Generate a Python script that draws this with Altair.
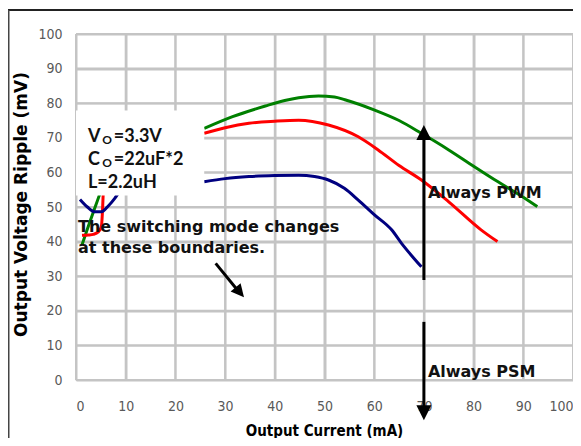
import altair as alt
import pandas as pd

# ---- series (Output Current mA, Ripple mV); each series has two visible pieces ----
green_left_x = [1.2, 2.5, 3.6, 4.6, 5.3]
green_left_y = [39.0, 44.5, 49.0, 53.0, 56.0]
green_x = [25.8, 31.5, 38.1, 42.0, 44.8, 48.8, 52.0, 54.1, 60.1, 65.0, 69.5, 75.0, 80.0, 85.0, 90.0, 92.8]
green_y = [72.7, 76.1, 79.2, 80.8, 81.6, 82.1, 81.8, 81.0, 78.0, 75.0, 71.3, 66.5, 61.8, 57.2, 52.8, 50.1]

red_left_x = [1.2, 2.5, 3.5, 4.5, 5.1, 5.3, 5.5]
red_left_y = [41.8, 41.9, 42.1, 42.8, 44.3, 48.0, 55.0]
red_x = [25.8, 30.0, 34.8, 40.0, 44.8, 50.8, 56.8, 60.8, 65.0, 69.5, 75.0, 81.5, 84.8]
red_y = [71.3, 72.9, 74.2, 74.8, 75.1, 73.7, 70.3, 66.5, 62.0, 57.8, 51.5, 43.4, 40.0]

blue_left_x = [0.8, 2.3, 3.8, 5.1, 6.5, 7.8, 9.0]
blue_left_y = [52.2, 50.0, 48.6, 48.6, 50.3, 52.5, 55.0]
blue_x = [25.8, 30.0, 34.8, 40.0, 44.8, 48.0, 50.8, 54.0, 56.8, 60.0, 63.5, 65.5, 67.5, 69.5]
blue_y = [57.3, 58.2, 58.8, 59.1, 59.2, 58.8, 57.8, 55.4, 52.0, 47.8, 43.4, 39.5, 36.0, 32.7]

series_names = ["green", "red", "blue"]
series_colors = ["#008000", "#ff0000", "#000080"]

x_ticks = [0, 10, 20, 30, 40, 50, 60, 70, 80, 90, 100]
y_ticks = [0, 10, 20, 30, 40, 50, 60, 70, 80, 90, 100]

# ---- annotations (data coordinates) ----
box_x = [0.0]
box_x2 = [25.8]
box_y = [53.3]
box_y2 = [77.9]

main_txt = ["V", "=3.3V", "C", "=22uF*2", "L=2.2uH"]
main_txt_x = [2.4, 7.6, 2.4, 7.6, 2.4]
main_txt_y = [70.3, 70.3, 63.6, 63.6, 57.0]

sub_txt = ["O", "O"]
sub_txt_x = [5.3, 5.3]
sub_txt_y = [69.3, 62.6]

note_txt = ["The switching mode changes", "at these boundaries.", "Always PWM", "Always PSM"]
note_txt_x = [0.4, 0.4, 70.8, 70.8]
note_txt_y = [44.3, 38.1, 54.0, 2.4]

shaft_x = [70.0, 70.0, 28.1]
shaft_y = [28.9, 16.8, 33.7]
shaft_x2 = [70.0, 70.0, 32.6]
shaft_y2 = [71.5, -8.0, 25.8]

head_x = [70.0, 70.0, 33.8]
head_y = [73.7, -11.6, 23.9]
head_shape = ["up", "down", "diag"]
head_angle = [0, 0, 320]

# ---- build tables ----
rows = []
for name, pieces in [
    ("green", [(green_left_x, green_left_y), (green_x, green_y)]),
    ("red", [(red_left_x, red_left_y), (red_x, red_y)]),
    ("blue", [(blue_left_x, blue_left_y), (blue_x, blue_y)]),
]:
    for k, (xs_, ys_) in enumerate(pieces):
        for i, (a, b) in enumerate(zip(xs_, ys_)):
            rows.append({"x": a, "y": b, "series": name, "seg": f"{name}{k}", "o": i})
lines_df = pd.DataFrame(rows)

xs = alt.Scale(domain=[0, 100], nice=False)
ys = alt.Scale(domain=[0, 100], nice=False)

grid_color = "#c4c4c4"
label_font = "DejaVu Sans Condensed, Roboto, Liberation Sans, sans-serif"

x_axis = alt.Axis(
    values=x_ticks, grid=True, gridColor=grid_color, gridWidth=2, gridOpacity=1, domain=False,
    ticks=False, tickSize=0, labelPadding=26, labelBaseline="middle", labelOverlap=False,
    labelFont=label_font, labelFontSize=14, labelColor="#595959",
    title="Output Current (mA)", titleFont=label_font, titleFontSize=15,
    titleFontWeight="bold", titleColor="#000000", titleX=248, titleY=50,
    titleBaseline="middle", titleAlign="center",
)
y_axis = alt.Axis(
    values=y_ticks, grid=True, gridColor=grid_color, gridWidth=2, gridOpacity=1, domain=False,
    ticks=False, tickSize=0, labelPadding=14, labelOverlap=False,
    labelFont=label_font, labelFontSize=14, labelColor="#595959",
    title="Output Voltage Ripple (mV)", titleFont="DejaVu Sans", titleFontSize=17,
    titleFontWeight="bold", titleColor="#000000", titleX=-55, titleY=170,
    titleAngle=270, titleBaseline="middle", titleAlign="center",
)


def X(f="x"):
    return alt.X(f"{f}:Q", scale=xs, axis=x_axis)


def Y(f="y"):
    return alt.Y(f"{f}:Q", scale=ys, axis=y_axis)


# gridlines from tick arrays (drawn as marks as well)
vgrid = alt.Chart(pd.DataFrame({"x": x_ticks})).mark_rule(
    color=grid_color, strokeWidth=2, opacity=1
).encode(x=X(), y=alt.value(0), y2=alt.value(346))
hgrid = alt.Chart(pd.DataFrame({"y": y_ticks})).mark_rule(
    color=grid_color, strokeWidth=2, opacity=1
).encode(y=Y(), x=alt.value(0), x2=alt.value(497))

lines = alt.Chart(lines_df).mark_line(strokeWidth=3, interpolate="monotone", clip=False).encode(
    x=X(), y=Y(),
    color=alt.Color("series:N", scale=alt.Scale(domain=series_names, range=series_colors), legend=None),
    detail="seg:N",
    order="o:Q",
)

box = alt.Chart(pd.DataFrame({"x": box_x, "x2": box_x2, "y": box_y, "y2": box_y2})).mark_rect(
    color="white"
).encode(x=X(), x2="x2:Q", y=Y(), y2="y2:Q")

main_text = alt.Chart(pd.DataFrame({"t": main_txt, "x": main_txt_x, "y": main_txt_y})).mark_text(
    font="Lato", fontSize=18, fontWeight="bold", align="left", baseline="middle", color="#111111"
).encode(x=X(), y=Y(), text="t:N")

sub_text = alt.Chart(pd.DataFrame({"t": sub_txt, "x": sub_txt_x, "y": sub_txt_y})).mark_text(
    font="Lato", fontSize=12, fontWeight="bold", align="left", baseline="middle", color="#111111"
).encode(x=X(), y=Y(), text="t:N")

note_text = alt.Chart(pd.DataFrame({"t": note_txt, "x": note_txt_x, "y": note_txt_y})).mark_text(
    font="DejaVu Sans", fontSize=16, fontWeight="bold", align="left", baseline="middle", color="#111111"
).encode(x=X(), y=Y(), text="t:N")

shafts = alt.Chart(pd.DataFrame({"x": shaft_x, "y": shaft_y, "x2": shaft_x2, "y2": shaft_y2})).mark_rule(
    color="#000000", strokeWidth=3, clip=False
).encode(x=X(), y=Y(), x2="x2:Q", y2="y2:Q")

up_path = "M0,0L1,2L-1,2Z"
down_path = "M0,0L1,-2L-1,-2Z"
heads_df = pd.DataFrame({"x": head_x, "y": head_y, "kind": head_shape, "a": head_angle})
heads_up = alt.Chart(heads_df).transform_filter(alt.datum.kind == "up").mark_point(
    shape=up_path, filled=True, color="#000000", size=225, opacity=1, strokeWidth=0
).encode(x=X(), y=Y())
heads_down = alt.Chart(heads_df).transform_filter(alt.datum.kind == "down").mark_point(
    shape=down_path, filled=True, color="#000000", size=225, opacity=1, strokeWidth=0
).encode(x=X(), y=Y())
heads_diag = alt.Chart(heads_df).transform_filter(alt.datum.kind == "diag").mark_point(
    shape=down_path, filled=True, color="#000000", size=170, opacity=1, strokeWidth=0
).encode(x=X(), y=Y(), angle=alt.Angle("a:Q", scale=None))

frame_top = alt.Chart(pd.DataFrame({"k": [0]})).mark_rule(color="#222222", strokeWidth=2, clip=False).encode(
    x=alt.value(-68), x2=alt.value(510), y=alt.value(-24)
)
frame_left = alt.Chart(pd.DataFrame({"k": [0]})).mark_rule(color="#444444", strokeWidth=2, clip=False).encode(
    x=alt.value(-67.5), y=alt.value(-24), y2=alt.value(420)
)

chart = alt.layer(
    vgrid, hgrid, lines, box, main_text, sub_text, note_text, shafts, heads_up, heads_down, heads_diag,
    frame_top, frame_left,
).properties(
    width=497, height=346,
    autosize=alt.AutoSizeParams(type="none"),
    padding={"left": 68, "top": 26, "right": 0, "bottom": 58},
    background="white",
).configure_view(stroke=None)

chart.save("out.html", embed_options={"renderer": "svg", "actions": False})
